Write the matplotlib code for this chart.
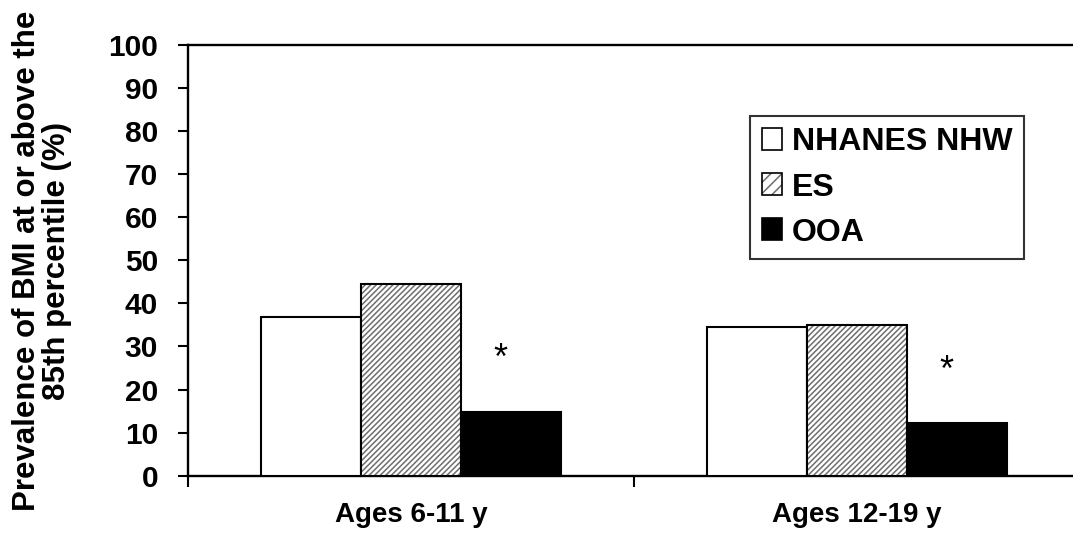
import matplotlib
matplotlib.use("Agg")
import matplotlib.pyplot as plt
import numpy as np
from matplotlib.patches import Patch
from matplotlib.legend_handler import HandlerTuple

categories = ["Ages 6-11 y", "Ages 12-19 y"]
series_names = ["NHANES NHW", "ES", "OOA"]
nhanes = [36.8, 34.5]
es = [44.4, 35.0]
ooa = [14.7, 12.3]
star_y = [27.1, 24.1]
y_ticks = [0, 10, 20, 30, 40, 50, 60, 70, 80, 90, 100]
ylabel = "Prevalence of BMI at or above the\n85th percentile (%)"

plt.rcParams['font.family'] = ['Liberation Sans', 'DejaVu Sans']
plt.rcParams['hatch.linewidth'] = 1.1

W, H = 1073, 537
fig = plt.figure(figsize=(W / 100, H / 100), dpi=100)
ax = fig.add_axes([188 / W, 1 - 475.7 / H, 892 / W, 430.7 / H])

x = np.arange(len(categories))
bw = 0.224
HC = '#6e6e6e'
HATCH = '//////'
ax.bar(x - bw, nhanes, bw, color='white', edgecolor='black', linewidth=1.5, zorder=3)
ax.bar(x, es, bw, color='white', edgecolor=HC, hatch=HATCH, linewidth=0, zorder=3)
ax.bar(x, es, bw, fill=False, edgecolor='black', linewidth=1.5, zorder=4)
ax.bar(x + bw, ooa, bw, color='black', edgecolor='black', linewidth=1.5, zorder=3)

for xi, sy in zip(x, star_y):
    ax.text(xi + 0.2, sy, "*", ha='center', va='center', fontsize=26, fontweight='normal')

ax.set_xlim(-0.5, 1.5)
ax.set_ylim(0, 100)
ax.set_yticks(y_ticks)
ax.set_yticklabels([str(v) for v in y_ticks], fontsize=21.5, fontweight='bold')
ax.set_xticks([-0.5, 0.5, 1.5])
ax.set_xticklabels([])
ax.set_xticks(x, minor=True)
ax.set_xticklabels(categories, minor=True, fontsize=20, fontweight='bold')
ax.tick_params(axis='y', direction='out', length=7.5, width=1.5, pad=14)
ax.tick_params(axis='x', which='major', direction='out', length=8, width=1.5)
ax.tick_params(axis='x', which='minor', length=0, pad=19)

for s in ['left', 'bottom', 'top']:
    ax.spines[s].set_linewidth(1.7)
ax.spines['right'].set_visible(False)

ax.set_ylabel(ylabel, fontsize=22.5, fontweight='bold', linespacing=1.0)
ax.yaxis.set_label_coords((72 - 188) / 892, (475.7 - 261) / 430.7)

h_nh = Patch(facecolor='white', edgecolor='black', linewidth=1.2)
h_es = (Patch(facecolor='white', edgecolor=HC, hatch='///', linewidth=0),
        Patch(fill=False, edgecolor='black', linewidth=1.2))
h_oo = Patch(facecolor='black', edgecolor='black', linewidth=1.2)
leg = fig.legend([h_nh, h_es, h_oo], series_names,
                 handler_map={tuple: HandlerTuple(ndivide=1, pad=0)},
                 loc='upper left', bbox_to_anchor=(750 / W, 1 - 116 / H),
                 borderaxespad=0, fancybox=False, frameon=True,
                 prop={'size': 23, 'weight': 'bold'},
                 handlelength=0.63, handleheight=0.68, handletextpad=0.32,
                 labelspacing=0.47, borderpad=0.36)
leg.get_frame().set_edgecolor('black')
leg.get_frame().set_linewidth(1.5)

fig.savefig("out.png", dpi=100)
